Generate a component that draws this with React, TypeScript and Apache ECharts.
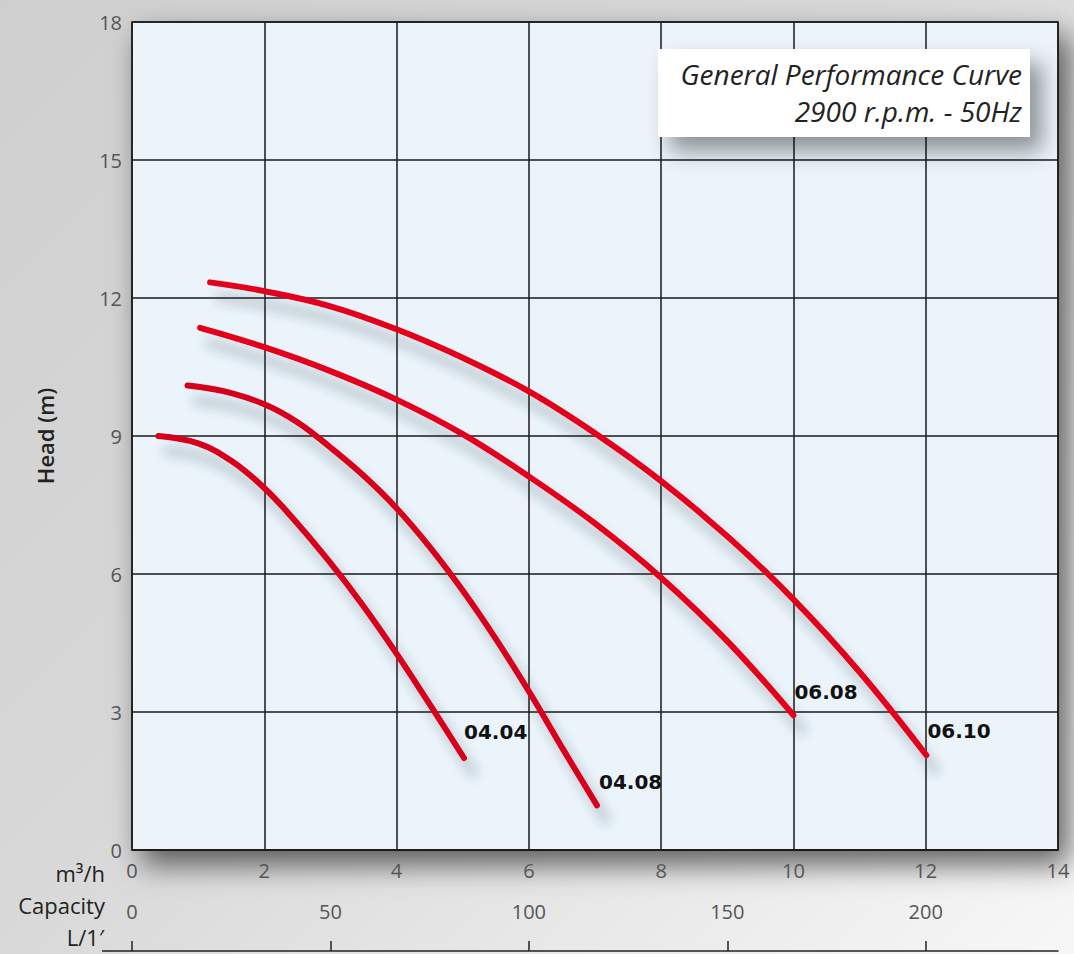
import React, { useEffect, useRef } from "react";
import * as echarts from "echarts";

// ---- data (flow in m³/h, head in m) ----
const curveNames = ["04.04", "04.08", "06.08", "06.10"];

const curve0404: number[][] = [
  [0.4, 9.0], [1.0, 8.84], [1.5, 8.46], [2.0, 7.87], [2.5, 7.1], [3.0, 6.24],
  [3.5, 5.3], [4.0, 4.27], [4.5, 3.17], [5.02, 2.0],
];
const curve0408: number[][] = [
  [0.84, 10.1], [1.4, 9.97], [2.0, 9.69], [2.5, 9.3], [3.0, 8.75], [3.5, 8.14],
  [4.0, 7.43], [4.5, 6.59], [5.0, 5.64], [5.5, 4.59], [6.0, 3.45], [6.5, 2.23], [7.03, 0.97],
];
const curve0608: number[][] = [
  [1.03, 11.35], [2.0, 10.93], [3.0, 10.41], [4.0, 9.79], [5.0, 9.04],
  [6.0, 8.12], [7.0, 7.1], [8.0, 5.92], [9.0, 4.54], [10.0, 2.93],
];
const curve0610: number[][] = [
  [1.18, 12.34], [2.0, 12.15], [3.0, 11.82], [4.0, 11.32], [5.0, 10.7],
  [6.0, 9.97], [7.0, 9.06], [8.0, 8.02], [9.0, 6.82], [10.0, 5.45],
  [11.0, 3.87], [12.01, 2.06],
];
const curves = [curve0404, curve0408, curve0608, curve0610];
const curveColors = ["#d6061f", "#d6061f", "#e3001b", "#e3001b"];
const labelOffsets = [[0, -26], [2, -23], [1, -23], [1, -24]];

const flowMin = 0;
const flowMax = 14;
const flowInterval = 2;
const headMin = 0;
const headMax = 18;
const headInterval = 3;
const litersMax = (flowMax * 1000) / 60;
const litersInterval = 50;
const litersTicks = [0, 50, 100, 150, 200];

const titleLines = ["General Performance Curve", "2900 r.p.m. - 50Hz"];
const yAxisTitle = "Head (m)";
const unitLabels = ["m³/h", "Capacity", "L/1′"];

export default function App() {
  const ref = useRef<HTMLDivElement>(null);

  useEffect(() => {
    document.body.style.margin = "0";
    if (!ref.current) return;
    const chart = echarts.init(ref.current, null, { renderer: "svg" });

    const tickFont = "'Open Sans', 'Noto Sans', sans-serif";
    const gridLeft = 132;
    const gridTop = 22;
    const gridW = 926;
    const gridH = 828;

    const series = curves.map((data, i) => ({
      type: "line",
      name: curveNames[i],
      data,
      xAxisIndex: 0,
      yAxisIndex: 0,
      smooth: 0.4,
      symbol: "none",
      z: 5,
      lineStyle: {
        color: curveColors[i],
        width: 6,
        cap: "round",
        shadowColor: "rgba(40,60,75,0.35)",
        shadowBlur: 12,
        shadowOffsetX: 9,
        shadowOffsetY: 15,
      },
      endLabel: {
        show: true,
        formatter: curveNames[i],
        distance: 0,
        offset: labelOffsets[i],
        fontFamily: "'DejaVu Sans', sans-serif",
        fontWeight: "bold",
        fontSize: 20,
        color: "#111",
        align: "left",
      },
    }));

    chart.setOption({
      animation: false,
      backgroundColor: "transparent",
      grid: {
        left: gridLeft,
        top: gridTop,
        width: gridW,
        height: gridH,
        outerBoundsMode: "none",
        containLabel: false,
        show: true,
        backgroundColor: "#eaf4fa",
        borderColor: "#1a1a1a",
        borderWidth: 1.5,
        shadowColor: "rgba(0,0,0,0.6)",
        shadowBlur: 30,
        shadowOffsetX: 10,
        shadowOffsetY: 14,
      },
      xAxis: [
        {
          type: "value",
          min: flowMin,
          max: flowMax,
          interval: flowInterval,
          position: "bottom",
          axisLine: { show: true, lineStyle: { color: "#1a1a1a", width: 1.5 } },
          axisTick: { show: false },
          axisLabel: { margin: 10, fontSize: 20, color: "#555", fontFamily: tickFont },
          splitLine: { show: true, lineStyle: { color: "#1a1a1a", width: 1.5 } },
        },
        {
          type: "value",
          min: 0,
          max: litersMax,
          interval: litersInterval,
          position: "bottom",
          offset: 101,
          axisLine: { show: true, lineStyle: { color: "#222", width: 1.5 } },
          axisTick: {
            show: true,
            inside: true,
            length: 10,
            customValues: litersTicks,
            lineStyle: { color: "#222", width: 1.5 },
          },
          axisLabel: {
            inside: true,
            margin: 30,
            fontSize: 20,
            color: "#555",
            fontFamily: tickFont,
            customValues: litersTicks,
          },
          splitLine: { show: false },
        },
      ],
      yAxis: {
        type: "value",
        min: headMin,
        max: headMax,
        interval: headInterval,
        axisLine: { show: false },
        axisTick: { show: false },
        axisLabel: { margin: 10, fontSize: 20, color: "#555", fontFamily: tickFont },
        splitLine: { show: true, lineStyle: { color: "#1a1a1a", width: 1.5 } },
      },
      graphic: [
        {
          type: "rect",
          z: 100,
          shape: { x: 658, y: 49, width: 372, height: 88 },
          style: {
            fill: "#ffffff",
            shadowColor: "rgba(0,0,0,0.4)",
            shadowBlur: 22,
            shadowOffsetX: 12,
            shadowOffsetY: 14,
          },
        },
        {
          type: "text",
          z: 101,
          x: 1022,
          y: 74,
          style: {
            text: titleLines[0],
            align: "right",
            verticalAlign: "middle",
            fontSize: 28,
            fontStyle: "italic",
            fontFamily: tickFont,
            fill: "#222",
          },
        },
        {
          type: "text",
          z: 101,
          x: 1022,
          y: 111,
          style: {
            text: titleLines[1],
            align: "right",
            verticalAlign: "middle",
            fontSize: 28,
            fontStyle: "italic",
            fontFamily: tickFont,
            fill: "#222",
          },
        },
        {
          type: "text",
          z: 101,
          x: 45,
          y: 436,
          rotation: Math.PI / 2,
          style: {
            text: yAxisTitle,
            align: "center",
            verticalAlign: "middle",
            fontSize: 22,
            fontWeight: 600,
            fontFamily: tickFont,
            fill: "#222",
          },
        },
        {
          type: "text",
          z: 101,
          x: 105,
          y: 873,
          style: { text: unitLabels[0], align: "right", verticalAlign: "middle", fontSize: 22, fontFamily: tickFont, fill: "#222" },
        },
        {
          type: "text",
          z: 101,
          x: 105,
          y: 905,
          style: { text: unitLabels[1], align: "right", verticalAlign: "middle", fontSize: 22, fontFamily: tickFont, fill: "#222" },
        },
        {
          type: "text",
          z: 101,
          x: 104,
          y: 937,
          style: { text: unitLabels[2], align: "right", verticalAlign: "middle", fontSize: 22, fontFamily: tickFont, fill: "#222" },
        },
        {
          type: "line",
          z: 101,
          shape: { x1: 102, y1: 951, x2: 132, y2: 951 },
          style: { stroke: "#222", lineWidth: 1.5 },
        },
      ],
      series,
    });

    return () => chart.dispose();
  }, []);

  return (
    <div
      ref={ref}
      style={{
        width: 1074,
        height: 954,
        background:
          "linear-gradient(135deg, #cfcfcf 0%, #d8d8d8 45%, #e6e6e6 70%, #f7f7f7 100%)",
      }}
    />
  );
}
